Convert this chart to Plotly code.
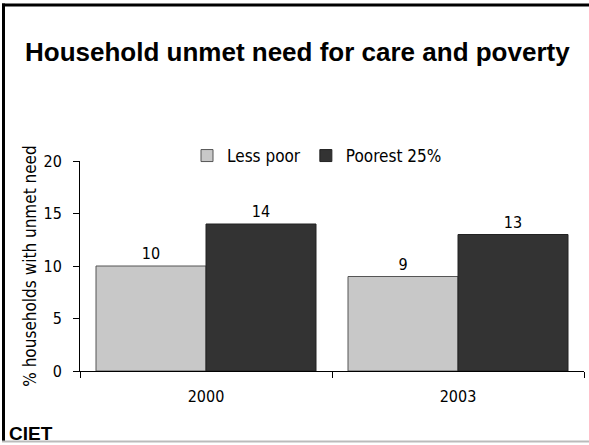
import plotly.graph_objects as go

# Survey rounds and share of households with unmet need for care (%)
years = ["2000", "2003"]
less_poor = [10, 9]
poorest_25 = [14, 13]
series_names = ["Less poor", "Poorest 25%"]
y_ticks = [0, 5, 10, 15, 20]

W, H = 589, 445
ML, MR, MT, MB = 80, 5, 161, 74
PW = W - ML - MR
PH = H - MT - MB


def px_x(px):
    return (px - ML) / PW


def px_y(py):
    return (H - MB - py) / PH


BODY_FONT = "DejaVu Sans Condensed"
label_font = dict(family=BODY_FONT, size=16, color="black")

fig = go.Figure()
fig.add_trace(go.Bar(
    x=years, y=less_poor, name=series_names[0],
    marker=dict(color="#C8C8C8", line=dict(color="#555555", width=1)),
    text=[str(v) for v in less_poor], textposition="outside",
    textfont=label_font, cliponaxis=False,
))
fig.add_trace(go.Bar(
    x=years, y=poorest_25, name=series_names[1],
    marker=dict(color="#333333", line=dict(color="#222222", width=1)),
    text=[str(v) for v in poorest_25], textposition="outside",
    textfont=label_font, cliponaxis=False,
))

fig.update_layout(
    width=W, height=H,
    margin=dict(l=ML, r=MR, t=MT, b=MB),
    paper_bgcolor="white", plot_bgcolor="white",
    barmode="group", bargap=0.127, bargroupgap=0,
    showlegend=True,
    legend=dict(
        orientation="h", x=px_x(317), y=px_y(156),
        xanchor="center", yanchor="middle",
        font=dict(family=BODY_FONT, size=17, color="black"),
        itemwidth=30, tracegroupgap=0,
        bgcolor="rgba(0,0,0,0)",
    ),
    font=dict(family=BODY_FONT, size=16, color="black"),
)

fig.update_xaxes(
    type="category", showline=True, linecolor="black", linewidth=1,
    ticks="outside", tickson="boundaries", ticklen=6, tickcolor="black",
    tickfont=dict(family=BODY_FONT, size=16, color="black"),
    ticklabelstandoff=11,
    showgrid=False, zeroline=False,
)
fig.update_yaxes(
    range=[0, 20], tickvals=y_ticks, showline=True, linecolor="black",
    linewidth=1, ticks="outside", ticklen=6, tickcolor="black",
    tickfont=dict(family=BODY_FONT, size=16, color="black"),
    ticklabelstandoff=8,
    showgrid=False, zeroline=False,
    title=dict(text="% households with unmet need", standoff=2,
               font=dict(family=BODY_FONT, size=17, color="black")),
)

# Title and source label
fig.add_annotation(
    text="<b>Household unmet need for care and poverty</b>",
    xref="paper", yref="paper", x=px_x(23), y=px_y(52),
    xanchor="left", yanchor="middle", showarrow=False,
    font=dict(family="Liberation Sans", size=26, color="black"),
)
fig.add_annotation(
    text="<b>CIET</b>",
    xref="paper", yref="paper", x=px_x(7), y=px_y(433),
    xanchor="left", yanchor="middle", showarrow=False,
    font=dict(family="Liberation Sans", size=19, color="black"),
)

# Slide frame: heavy left and top edges, light bottom edge
fig.add_shape(type="line", xref="paper", yref="paper",
              x0=px_x(3.5), x1=px_x(3.5), y0=px_y(3.5), y1=px_y(442),
              line=dict(color="black", width=3))
fig.add_shape(type="line", xref="paper", yref="paper",
              x0=px_x(2), x1=px_x(400), y0=px_y(5), y1=px_y(5),
              line=dict(color="black", width=3))
fig.add_shape(type="line", xref="paper", yref="paper",
              x0=px_x(400), x1=px_x(589), y0=px_y(5), y1=px_y(5),
              line=dict(color="black", width=3))
fig.add_shape(type="line", xref="paper", yref="paper",
              x0=px_x(2), x1=px_x(589), y0=px_y(441.5), y1=px_y(441.5),
              line=dict(color="#BBBBBB", width=2))

fig.write_html("out.html", config={"displayModeBar": False})
